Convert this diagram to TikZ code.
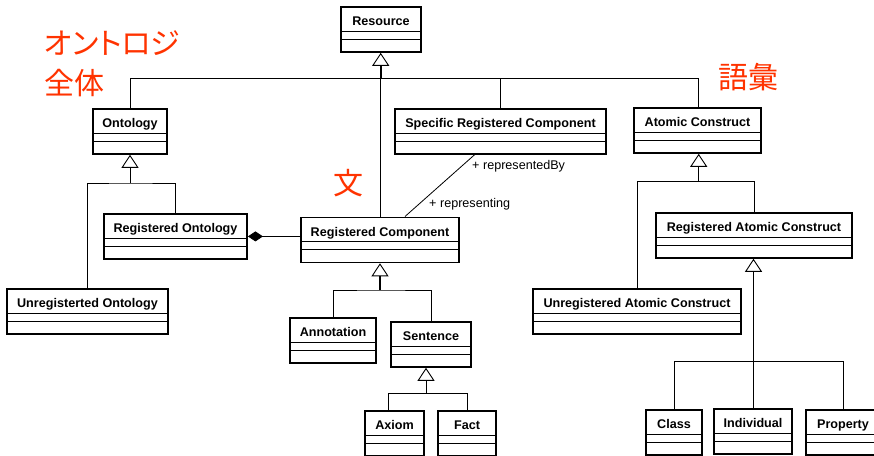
\documentclass[tikz,border=0pt]{standalone}
\usepackage{fontspec}
\setmainfont{Liberation Sans}
\newfontfamily\cjk[RawFeature=+palt]{Noto Sans CJK JP}
\usetikzlibrary{arrows.meta}
\definecolor{notered}{RGB}{255,51,0}

\tikzset{
  classbox/.style={draw, line width=1.8pt, minimum height=45pt, anchor=north, inner sep=0pt},
  classname/.style={font=\fontsize{12.6}{14}\selectfont\bfseries, anchor=base, inner sep=0pt},
  divider/.style={line width=0.9pt},
  link/.style={line width=0.8pt},
  gen/.style={link, -{Triangle[open, length=13pt, width=17pt, line width=0.9pt, fill=white]}},
  comp/.style={link, {Diamond[length=15pt, width=10pt]}-},
  role/.style={font=\fontsize{12.6}{14}\selectfont, anchor=base west, inner sep=0pt},
  jp/.style={font=\cjk\fontsize{30}{34}\selectfont, text=notered, anchor=base west, inner sep=0pt}
}

\begin{document}
\begin{tikzpicture}[x=1pt, y=-1pt]
    \clip (0,0) rectangle (874,455);
    \fill[white] (0,0) rectangle (874,455);

    % classes: name / centre x / top y / width / title
    \foreach \nm/\cx/\ty/\w/\title in {
        res/381/6/80/Resource,
        ont/130/108/74/Ontology,
        src/500.5/108/211/Specific Registered Component,
        atom/697.5/107/127/Atomic Construct,
        ront/175.5/213/143/Registered Ontology,
        rc/380/216.5/158/Registered Component,
        uont/87.5/288/161/Unregisterted Ontology,
        ann/333/317/86/Annotation,
        sen/431/321/80/Sentence,
        axm/394.5/410/59/Axiom,
        fact/467/410/58/Fact,
        rac/754/212/196/Registered Atomic Construct,
        uac/637/288/208/Unregistered Atomic Construct,
        cls/674/409/56/Class,
        ind/753/408/78/Individual,
        prop/843/409/74/Property} {
        \node[classbox, minimum width=\w pt] (\nm) at (\cx,\ty) {};
        \draw[divider] ([yshift=-25pt]\nm.north west) -- ([yshift=-25pt]\nm.north east)
                       ([yshift=-33pt]\nm.north west) -- ([yshift=-33pt]\nm.north east);
        \node[classname] (\nm-title) at ([yshift=-19.5pt]\nm.north) {\title};
    }

    % junctions of the generalization trees
    \coordinate (jres) at (380.7,78.3);
    \coordinate (jont) at (130,183);
    \coordinate (jrc) at (380,290);
    \coordinate (jsen) at (426,393.3);
    \coordinate (jatom) at (698.7,181.7);
    \coordinate (jrac) at (753.5,361.7);

    % Resource
    \draw[gen, line width=1.6pt] (jres) -- (jres |- res.south);
    \draw[link] (ont.north) -- (ont.north |- jres) -- (jatom |- jres) -- (jatom |- atom.north);
    \draw[link] (src.north) -- (src.north |- jres);
    \draw[link] (rc.north) -- (rc.north |- jres);

    % Ontology
    \draw[gen] (jont) -- (ont.south);
    \draw[link] (uont.north) |- (jont) -| (ront.north);

    % Registered Component
    \draw[gen, line width=1.3pt] (jrc) -- (rc.south);
    \draw[link] (ann.north) |- (jrc) -| (sen.north);
    \draw[comp] (ront.east) -- (ront.east -| rc.west);

    % Sentence
    \draw[gen] (jsen) -- (jsen |- sen.south);
    \draw[link] ([xshift=-6pt]axm.north) |- (jsen) -| (fact.north);

    % Atomic Construct
    \draw[gen] (jatom) -- (jatom |- atom.south);
    \draw[link] (uac.north) |- (jatom) -| (rac.north);

    % Registered Atomic Construct
    \draw[gen, line width=1.6pt] (jrac) -- (jrac |- rac.south);
    \draw[link] (cls.north) |- (jrac) -| (prop.north);
    \draw[link] (jrac |- ind.north) -- (jrac);

    % association
    \draw[link] ([xshift=-26pt]src.south) -- ([xshift=25pt]rc.north);
    \node[role] (by) at (472,169) {+ representedBy};
    \node[role] (ing) at (429,207.5) {+ representing};

    % notes
    \node[jp] (whole1) at (44,54) {オントロジ};
    \node[jp] (whole2) at (44,94) {全体};
    \node[jp] (sent) at (333,194) {文};
    \node[jp] (vocab) at (718,88) {語彙};
\end{tikzpicture}
\end{document}
